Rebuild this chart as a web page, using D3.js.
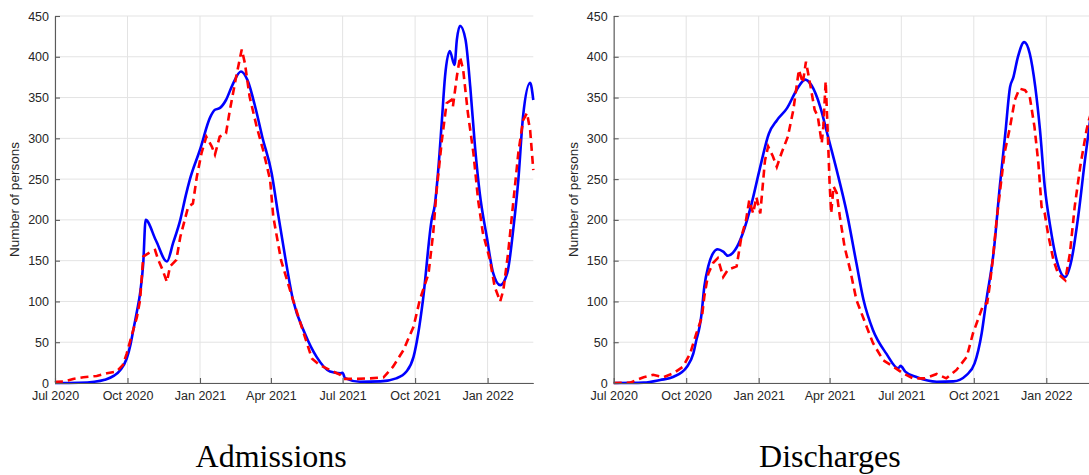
<!DOCTYPE html>
<html>
<head>
<meta charset="utf-8">
<script src="https://cdn.jsdelivr.net/npm/d3@7"></script>
<style>
  body { margin: 0; background: #fff; }
  svg { display: block; }
  .tick text { font-family: "Liberation Sans", Arial, sans-serif; font-size: 12.5px; fill: #262626; }
  .domain, .tick line { stroke: #5a5a5a; stroke-width: 1.1; }
</style>
</head>
<body>
<script>
// days since 1 Jul 2020, persons
var admissionsModel = [[0,0],[30,0.3],[50,1.5],[63,4],[75,9],[83,16],[91,30],[96,48],[99,63],[104,88],[108,110],[112,147],[115,200],[128,175],[142,149],[150,172],[159,200],[166,230],[171,249],[184,286],[197,326],[203,335],[209,337],[217,347],[225,365],[236,382],[244,372],[255,335],[263,302],[275,257],[283,208],[292,155],[302,102],[317,61],[332,32],[349,14],[362,12],[365,12.6],[368,6],[387,1.6],[413,2],[433,5.7],[446,14],[455,32],[461,61],[467,102],[478,200],[482,218],[486,257],[491,322],[495,376],[501,407],[507,390],[510,421],[514,438],[521,421],[527,363],[533,290],[539,233],[548,179],[556,135],[565,120],[574,135],[582,192],[588,249],[594,327],[603,368],[607,347]];
var admissionsData = [[0,1],[2,1.6],[12,2],[23,5],[36,7],[53,8.6],[66,12],[78,14],[86,22],[91,36],[97,57],[104,81],[108,102],[112,155],[120,160],[127,163],[131,151],[136,140],[142,124],[146,143],[154,151],[159,179],[169,216],[175,220],[180,253],[186,282],[192,302],[199,290],[203,280],[209,302],[217,306],[222,335],[230,376],[237,409],[241,392],[247,351],[256,314],[264,286],[273,249],[277,204],[287,150],[302,102],[313,69],[326,30],[336,22],[349,16],[362,10],[366,5],[383,5],[400,5.7],[417,7],[429,20],[442,40],[455,69],[463,102],[474,134],[480,184],[484,233],[491,298],[497,343],[503,347],[505,339],[510,376],[514,400],[518,384],[524,331],[531,282],[537,224],[543,184],[552,151],[558,118],[565,100],[569,114],[575,159],[581,216],[588,282],[594,322],[599,331],[603,310],[607,261]];
var dischargesModel = [[0,0],[38,0.5],[59,3.7],[76,7.7],[93,20],[101,36],[105,53],[109,69],[111,81],[115,118],[120,143],[126,159],[132,164],[139,161],[145,156],[154,163],[164,184],[175,220],[185,261],[197,306],[207,322],[220,337],[232,359],[243,372],[251,365],[262,339],[272,302],[283,261],[296,208],[308,147],[317,102],[329,65],[346,36],[361,18],[364,21],[370,14],[385,7],[410,1.6],[431,2],[448,10],[458,24],[467,61],[473,102],[482,159],[490,241],[497,306],[503,363],[507,374],[513,400],[521,418],[528,404],[535,363],[541,310],[547,241],[554,192],[562,151],[573,130],[581,151],[590,208],[598,273],[603,310],[607,340]];
var dischargesData = [[0,0],[21,0.5],[29,3.7],[38,7],[50,10],[63,7],[76,12],[88,20],[97,36],[105,61],[112,81],[115,106],[120,134],[126,147],[132,153],[139,130],[145,139],[156,143],[162,179],[168,200],[172,224],[177,208],[181,228],[186,208],[192,273],[196,290],[202,278],[207,265],[213,282],[221,302],[228,335],[232,363],[235,384],[240,368],[244,394],[249,368],[255,335],[259,327],[264,294],[266,314],[269,370],[271,323],[274,245],[276,208],[279,241],[283,233],[287,204],[293,167],[300,139],[308,102],[321,69],[329,49],[342,28],[355,20],[367,12],[380,5.7],[395,5.7],[410,11],[422,5.7],[435,16],[448,32],[456,61],[465,85],[469,96],[474,98],[477,118],[481,151],[486,200],[490,233],[496,282],[503,314],[509,347],[515,361],[522,359],[528,351],[534,314],[539,269],[543,216],[547,208],[551,184],[558,151],[564,134],[573,126],[579,159],[585,216],[592,265],[600,310],[603,322],[607,335]];

var xTickDates = ["2020-07-01","2020-10-01","2021-01-01","2021-04-01","2021-07-01","2021-10-01","2022-01-01"];
var xTickLabels = ["Jul 2020","Oct 2020","Jan 2021","Apr 2021","Jul 2021","Oct 2021","Jan 2022"];
var yTicks = [0,50,100,150,200,250,300,350,400,450];

var startDate = new Date(2020, 6, 1);
var endDate = new Date(2022, 1, 28);
var parseDay = d3.timeParse("%Y-%m-%d");

function dayToDate(d) { return new Date(startDate.getTime() + d * 864e5); }

var W = 1089, H = 475;
var plotTop = 16, plotBottom = 383, plotWidth = 478.3;

var svg = d3.select("body").append("svg")
    .attr("width", W)
    .attr("height", H);

var yScale = d3.scaleLinear().domain([0, 450]).range([plotBottom, plotTop]);

function drawPanel(left, model, observed, title) {
    var xScale = d3.scaleTime().domain([startDate, endDate]).range([left, left + plotWidth]);
    var tickDates = xTickDates.map(parseDay);

    var g = svg.append("g");

    // grid
    g.selectAll(".hgrid").data(yTicks).enter().append("line")
        .attr("x1", left).attr("x2", left + plotWidth)
        .attr("y1", function(d) { return yScale(d); })
        .attr("y2", function(d) { return yScale(d); })
        .attr("stroke", "#e3e3e3").attr("stroke-width", 1);
    g.selectAll(".vgrid").data(tickDates).enter().append("line")
        .attr("x1", function(d) { return xScale(d); })
        .attr("x2", function(d) { return xScale(d); })
        .attr("y1", plotTop).attr("y2", plotBottom)
        .attr("stroke", "#e3e3e3").attr("stroke-width", 1);

    var line = d3.line()
        .x(function(d) { return xScale(dayToDate(d[0])); })
        .y(function(d) { return yScale(d[1]); });

    g.append("path")
        .datum(model)
        .attr("fill", "none")
        .attr("stroke", "#0000ff")
        .attr("stroke-width", 2.6)
        .attr("d", line.curve(d3.curveMonotoneX));

    g.append("path")
        .datum(observed)
        .attr("fill", "none")
        .attr("stroke", "#ff0000")
        .attr("stroke-width", 2.6)
        .attr("stroke-dasharray", "8,5")
        .attr("d", line.curve(d3.curveLinear));

    var xAxis = d3.axisBottom(xScale)
        .tickValues(tickDates)
        .tickFormat(function(d, i) { return xTickLabels[i]; })
        .tickSizeInner(-5).tickSizeOuter(0).tickPadding(8);
    g.append("g")
        .attr("transform", "translate(0," + plotBottom + ")")
        .call(xAxis);

    var yAxis = d3.axisLeft(yScale)
        .tickValues(yTicks)
        .tickSizeInner(-5).tickSizeOuter(0).tickPadding(6);
    g.append("g")
        .attr("transform", "translate(" + left + ",0)")
        .call(yAxis);

    g.append("text")
        .attr("transform", "translate(" + (left - 36) + "," + ((plotTop + plotBottom) / 2) + ") rotate(-90)")
        .attr("text-anchor", "middle")
        .attr("font-family", "Liberation Sans, Arial, sans-serif")
        .attr("font-size", 13.5)
        .attr("fill", "#262626")
        .text("Number of persons");

    g.append("text")
        .attr("x", left + plotWidth / 2 - 23)
        .attr("y", 467)
        .attr("text-anchor", "middle")
        .attr("font-family", "Liberation Serif, Times New Roman, serif")
        .attr("font-size", 32)
        .attr("fill", "#000")
        .text(title);
}

drawPanel(55, admissionsModel, admissionsData, "Admissions");
drawPanel(613.7, dischargesModel, dischargesData, "Discharges");
</script>
</body>
</html>
